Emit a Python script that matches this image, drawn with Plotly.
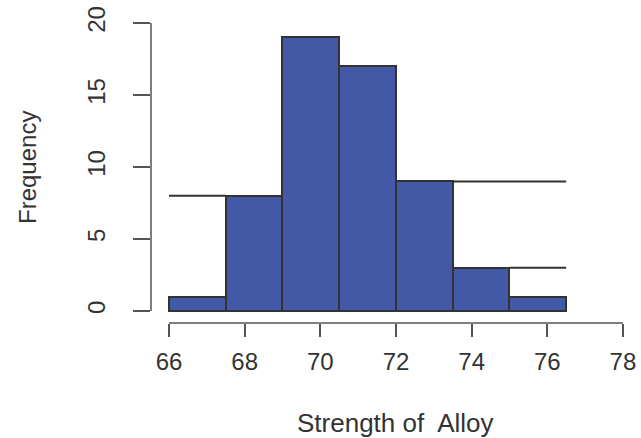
import plotly.graph_objects as go

# Data
bin_edges = [66.0, 67.5, 69.0, 70.5, 72.0, 73.5, 75.0, 76.5]
frequencies = [1, 8, 19, 17, 9, 3, 1]
# extra horizontal segments seen in the figure (x0, x1, y)
seg_x0 = [66.0, 73.5, 75.0]
seg_x1 = [67.5, 76.5, 76.5]
seg_y = [8, 9, 3]
x_ticks = [66, 68, 70, 72, 74, 76, 78]
y_ticks = [0, 5, 10, 15, 20]

centers = [(a + b) / 2 for a, b in zip(bin_edges[:-1], bin_edges[1:])]
widths = [b - a for a, b in zip(bin_edges[:-1], bin_edges[1:])]

FONT = "Liberation Sans, Arial, sans-serif"
TXT = "#333333"
AX = "#555555"

fig = go.Figure()
fig.add_trace(go.Bar(
    x=centers, y=frequencies, width=widths,
    marker=dict(color="#4459A5", line=dict(color="#333333", width=2)),
    hoverinfo="x+y", showlegend=False,
))
for x0, x1, yv in zip(seg_x0, seg_x1, seg_y):
    fig.add_trace(go.Scatter(
        x=[x0, x1], y=[yv, yv], mode="lines",
        line=dict(color="#333333", width=2), showlegend=False,
    ))

fig.update_layout(
    width=641, height=438,
    margin=dict(l=151, r=10, t=15, b=115, autoexpand=False),
    paper_bgcolor="white", plot_bgcolor="white",
    font=dict(family=FONT, color=TXT, size=24),
    bargap=0,
    xaxis=dict(
        range=[65.524, 78.213], showgrid=False, zeroline=False, showline=False,
        automargin=False, ticklabeloverflow="allow",
        tickmode="array", tickvals=x_ticks, ticks="outside", ticklen=13,
        tickwidth=1.5, tickcolor=AX, tickfont=dict(size=24, color=TXT),
        ticklabelstandoff=4,
    ),
    yaxis=dict(
        range=[-0.833, 20.556], showgrid=False, zeroline=False, showline=False,
        automargin=False, ticklabeloverflow="allow",
        tickmode="array", tickvals=y_ticks, ticks="outside", ticklen=17,
        tickwidth=1.5, tickcolor=AX, tickangle=-90,
        tickfont=dict(size=24, color=TXT), ticklabelstandoff=18,
    ),
    shapes=[
        dict(type="line", xref="x", yref="paper", x0=x_ticks[0], x1=x_ticks[-1],
             y0=0, y1=0, line=dict(color=AX, width=1.5)),
        dict(type="line", xref="paper", yref="y", x0=0, x1=0,
             y0=y_ticks[0], y1=y_ticks[-1], line=dict(color=AX, width=1.5)),
    ],
    annotations=[
        dict(text="Strength of  Alloy", xref="paper", yref="paper",
             x=(395 - 151) / 480, y=-(423 - 323) / 308, showarrow=False,
             xanchor="center", yanchor="middle", font=dict(size=26, color=TXT)),
        dict(text="Frequency", xref="paper", yref="paper",
             x=-(151 - 27) / 480, y=(323 - 167) / 308, showarrow=False,
             textangle=-90, xanchor="center", yanchor="middle",
             font=dict(size=24, color=TXT)),
    ],
)

fig.write_html(
    "out.html",
    config={"displayModeBar": False},
    post_script="document.body.style.margin='0';document.body.style.overflow='hidden';",
)
